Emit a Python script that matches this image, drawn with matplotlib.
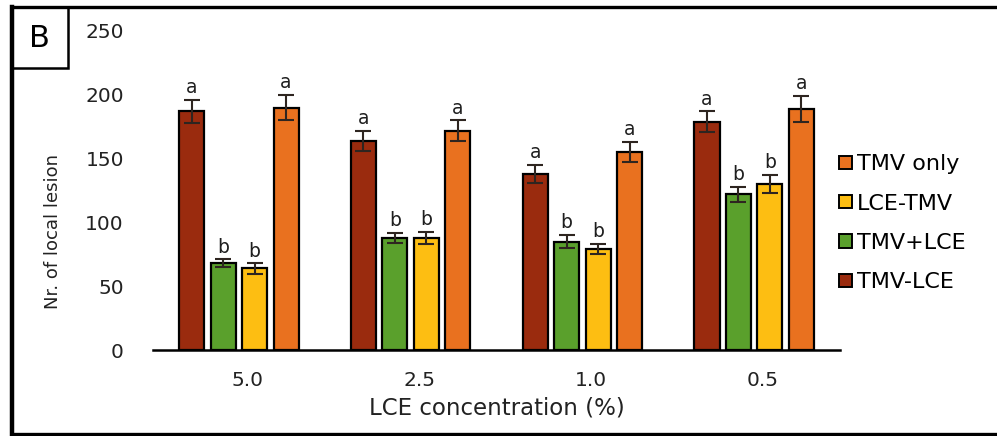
import numpy as np
import matplotlib
matplotlib.use('Agg')
import matplotlib.pyplot as plt
from matplotlib.patches import Patch, Rectangle
from matplotlib.lines import Line2D

# data
concs = ['5.0', '2.5', '1.0', '0.5']
series = ['TMV-LCE', 'TMV+LCE', 'LCE-TMV', 'TMV only']
tmvMinusLce = [187, 164, 138, 179]
tmvPlusLce  = [68, 88, 85, 122]
lceMinusTmv = [64, 88, 79, 130]
tmvOnly     = [190, 172, 155, 189]
errMinus = [9, 8, 7, 8]
errPlus  = [3, 4, 5, 6]
errLceT  = [4, 4.5, 4, 7]
errOnly  = [10, 8, 8, 10]
letters = [['a', 'a', 'a', 'a'], ['b', 'b', 'b', 'b'],
           ['b', 'b', 'b', 'b'], ['a', 'a', 'a', 'a']]

values = [tmvMinusLce, tmvPlusLce, lceMinusTmv, tmvOnly]
errors = [errMinus, errPlus, errLceT, errOnly]
colors = ['#9A2B0E', '#5AA02C', '#FDBE12', '#E9711F']

fig = plt.figure(figsize = (9.97, 4.36), dpi = 100)
ax = fig.add_axes([0.1535, 0.197, 0.689, 0.732])

x = np.arange(len(concs))
pitch = 0.183; width = 0.146
for i in range(len(series)) :
    pos = x + (i - 1.5) * pitch
    ax.bar(pos, values[i], width, color = colors[i], edgecolor = 'black',
           linewidth = 1.6, label = series[i], zorder = 2)
    ax.errorbar(pos, values[i], yerr = errors[i], fmt = 'none', ecolor = '#2e2520',
                elinewidth = 1.5, capsize = 6, capthick = 1.5, zorder = 3)
    for j in range(len(concs)) :
        ax.annotate(letters[i][j], (pos[j], values[i][j] + errors[i][j]),
                    xytext = (0, 2), textcoords = 'offset points',
                    ha = 'center', va = 'bottom', fontsize = 13.5, color = '#1e1e1e')

ax.set_xlim(-0.5, 3.5)
ax.set_ylim(0, 250)
ax.set_yticks(np.arange(0, 251, 50))
ax.set_xticks(x + 0.05)
ax.set_xticklabels(concs)
ax.tick_params(axis = 'both', length = 0, labelsize = 14.5, colors = '#222222')
ax.tick_params(axis = 'y', pad = 21)
ax.tick_params(axis = 'x', pad = 15)
for s in ['top', 'right', 'left'] :
    ax.spines[s].set_visible(False)
ax.spines['bottom'].set_linewidth(1.8)

ax.set_xlabel('LCE concentration (%)', fontsize = 16.5, color = '#222222', labelpad = 5)
ax.set_ylabel('Nr. of local lesion', fontsize = 13, color = '#222222')
ax.yaxis.set_label_coords(-0.132, 0.373)

handles = [Patch(facecolor = colors[i], edgecolor = 'black', linewidth = 1.4)
           for i in range(len(series))][::-1]
fig.legend(handles, series[::-1], loc = 'center left', bbox_to_anchor = (0.842, 0.488),
           frameon = False, fontsize = 16, handlelength = 0.55, handleheight = 0.55,
           handletextpad = 0.22, labelspacing = 0.87, borderpad = 0, borderaxespad = 0)

# outer frame and panel label
fig.add_artist(Line2D([0.012, 0.012], [0.003, 0.984], color = 'black', lw = 3.2))
fig.add_artist(Line2D([0.012, 1.0], [0.984, 0.984], color = 'black', lw = 2.4))
fig.add_artist(Line2D([0.012, 1.0], [0.004, 0.004], color = 'black', lw = 2.4))
fig.add_artist(Rectangle((0.012, 0.844), 0.056, 0.14, transform = fig.transFigure,
                         fill = False, edgecolor = 'black', lw = 1.8))
fig.text(0.040, 0.912, 'B', ha = 'center', va = 'center', fontsize = 22)

fig.savefig('out.png', dpi = 100)
